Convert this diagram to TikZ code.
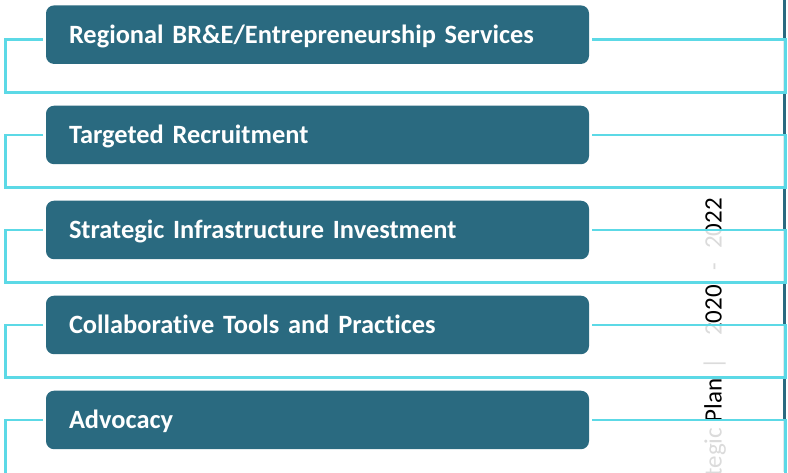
\documentclass[tikz,border=0pt]{standalone}
\usepackage{fontspec}
\newfontfamily\boxfont{Carlito}[Ligatures=NoCommon]
\definecolor{boxteal}{RGB}{42,106,128}
\definecolor{linecyan}{RGB}{92,217,230}
\tikzset{
  itembox/.style={rectangle, rounded corners=8pt, fill=boxteal, text=white,
    font=\boxfont\bfseries\fontsize{26.4}{30}\selectfont,
    minimum height=58.5pt, text width=497pt, inner xsep=23pt, align=left,
    text height=17pt, text depth=0pt, outer sep=3pt, anchor=north west},
  bracket/.style={draw=linecyan, line width=2.5pt},
  veil/.style={fill=white, fill opacity=0.86}
}

\begin{document}
\begin{tikzpicture}[x=1pt,y=-1pt]
    \useasboundingbox (0,0) rectangle (788,472);
    \clip (0,0) rectangle (788,472);
    % background: margin line and running head
    \draw[boxteal, line width=2.2pt] (784.4,0) -- (784.4,472);
    \node[rotate=90, anchor=base east, inner sep=0pt, text=black,
      font=\boxfont\fontsize{25}{28}\selectfont] (head) at (721.7,198)
      {Strategic Plan\hspace{9pt}|\hspace{22pt}2020\hspace{14.3pt}-\hspace{14.3pt}2022};
    % corners of the brackets
    \coordinate (lt1) at (5.5,39.5);  \coordinate (rb1) at (785.7,92.3);
    \coordinate (lt2) at (5.5,134.8); \coordinate (rb2) at (785.7,187.3);
    \coordinate (lt3) at (5.5,230);   \coordinate (rb3) at (785.7,282.3);
    \coordinate (lt4) at (5.5,325);   \coordinate (rb4) at (785.7,377.3);
    \coordinate (lt5) at (5.5,420);   \coordinate (rb5) at (785.7,476);
    \foreach \i in {1,...,5}
      \fill[veil] (lt\i) rectangle (rb\i);
    % items
    \node[itembox] (r1) at (43,2.4) {Regional BR\&E/Entrepreneurship Services};
    \node[itembox] (r2) at (43,102.7) {Targeted Recruitment};
    \node[itembox] (r3) at (43,197.7) {Strategic Infrastructure Investment};
    \node[itembox] (r4) at (43,292.7) {Collaborative Tools and Practices};
    \node[itembox] (r5) at (43,387.7) {Advocacy};
    \foreach \i in {1,...,5}
      \draw[bracket] (r\i.west |- lt\i) -- (lt\i) |- (rb\i) |- (r\i.east |- lt\i);
\end{tikzpicture}
\end{document}
